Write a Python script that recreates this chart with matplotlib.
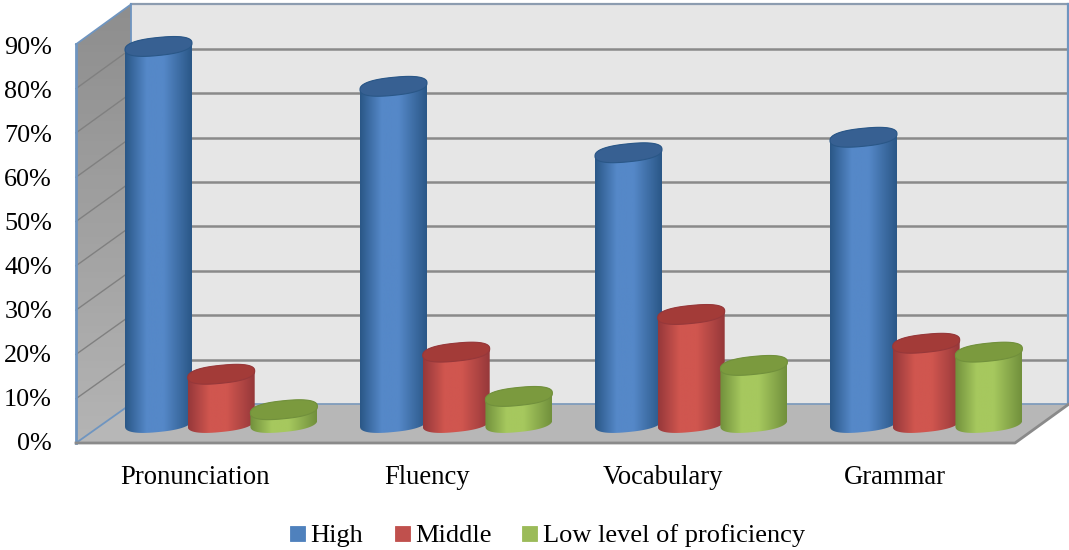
import numpy as np
import matplotlib
matplotlib.use('Agg')
import matplotlib.pyplot as plt
from matplotlib.patches import Polygon, Rectangle
from matplotlib.colors import LinearSegmentedColormap

categories = ['Pronunciation', 'Fluency', 'Vocabulary', 'Grammar']
series_names = ['High', 'Middle', 'Low level of proficiency']
high = [85, 76, 61, 64.5]
middle = [11, 16, 24.5, 18]
low = [3, 6, 13, 16]
y_ticks = [0, 10, 20, 30, 40, 50, 60, 70, 80, 90]

# edge, centre, top cap, legend swatch
blue = ('#2a5787', '#5588c8', '#376092', '#4f81bd')
red = ('#96383a', '#d0564f', '#a33b38', '#c0504d')
green = ('#71903c', '#a6c85e', '#7b9a3e', '#9bbb59')

# chart box in pixels
FRONT_L, FRONT_R, BACK_L, BACK_R = 76, 1015, 131, 1069
FRONT_0, BACK_0 = 443, 404
PX_PER_PCT = 4.43
BAR_0 = 423
GROUP_X = 158.5
GROUP_STEP = 235
BAR_STEP = 62.7
RX, RY, SKEW = 33.5, 9, 3.3
ROUNDNESS = 0.82

plt.rcParams['font.family'] = ['Liberation Serif', 'DejaVu Serif']

fig = plt.figure(figsize=(10.69, 5.5), dpi=100)
ax = fig.add_axes([0, 0, 1, 1])
ax.set_xlim(0, 1069)
ax.set_ylim(550, 0)
ax.axis('off')


def wall_gradient(poly, top, bottom, zorder):
    ax.add_patch(poly)
    cmap = LinearSegmentedColormap.from_list('w', [top, bottom])
    xy = poly.get_xy()
    im = ax.imshow(np.linspace(0, 1, 64).reshape(-1, 1), cmap=cmap, aspect='auto', zorder=zorder,
                   extent=[xy[:, 0].min(), xy[:, 0].max(), xy[:, 1].max(), xy[:, 1].min()])
    im.set_clip_path(poly)


def draw_box():
    top_back = BACK_0 - 90 * 4.44
    top_front = FRONT_0 - 90 * 4.43

    ax.add_patch(Polygon([(BACK_L, top_back), (BACK_R, top_back), (BACK_R, BACK_0), (BACK_L, BACK_0)],
                         facecolor='#e6e6e6', edgecolor='none', zorder=1))
    side = Polygon([(FRONT_L, top_front), (BACK_L, top_back), (BACK_L, BACK_0), (FRONT_L, FRONT_0)],
                   facecolor='none', edgecolor='none', zorder=1)
    wall_gradient(side, '#8e8e8e', '#b4b4b4', 1)
    ax.add_patch(Polygon([(FRONT_L, FRONT_0), (BACK_L, BACK_0), (BACK_R, BACK_0), (FRONT_R, FRONT_0)],
                         facecolor='#b7b7b7', edgecolor='none', zorder=1))

    # gridlines wrap from the side wall onto the back wall
    for tick in y_ticks[1:-1]:
        yb = BACK_0 - tick * 4.44
        yf = FRONT_0 - tick * 4.43
        ax.plot([BACK_L, BACK_R], [yb, yb], color='#8a8a8a', lw=1.8, zorder=2)
        ax.plot([FRONT_L, BACK_L], [yf, yb], color='#808080', lw=1.0, zorder=2)

    edge = '#6f95c0'
    ax.plot([BACK_L, BACK_R], [top_back, top_back], color='#8c9cb0', lw=1.6, zorder=2)
    ax.plot([BACK_L, BACK_L], [top_back, BACK_0], color=edge, lw=1.3, zorder=2)
    ax.plot([BACK_R - 1, BACK_R - 1], [top_back, BACK_0], color=edge, lw=1.6, zorder=2)
    ax.plot([FRONT_L, FRONT_L], [top_front, FRONT_0], color=edge, lw=2.0, zorder=2)
    ax.plot([FRONT_L, BACK_L], [top_front, top_back], color=edge, lw=1.3, zorder=2)
    ax.plot([FRONT_L, BACK_L], [FRONT_0, BACK_0], color=edge, lw=1.3, zorder=2)
    ax.plot([BACK_L, BACK_R], [BACK_0, BACK_0], color='#7f9cbc', lw=1.3, zorder=2)
    ax.plot([FRONT_L, FRONT_R, BACK_R], [FRONT_0, FRONT_0, BACK_0], color='#8a8a8a', lw=2.0, zorder=2)


def ellipse_pts(cx, cy, t):
    # slightly squared ellipse, tilted up towards the right
    c = np.sign(np.cos(t)) * np.abs(np.cos(t)) ** ROUNDNESS
    s = np.sign(np.sin(t)) * np.abs(np.sin(t)) ** ROUNDNESS
    return np.column_stack([cx + RX * c, cy + RY * s - SKEW * c])


def draw_cylinder(cx, value, colors, zorder):
    edge, centre, cap, _ = colors
    y_top = BAR_0 - value * PX_PER_PCT

    # body outline: top arc is hidden by the cap, bottom arc bulges down
    top_arc = ellipse_pts(cx, y_top, np.linspace(np.pi, 2 * np.pi, 40))
    bottom_arc = ellipse_pts(cx, BAR_0, np.linspace(0, np.pi, 40))
    body = Polygon(np.vstack([top_arc, bottom_arc]), closed=True, facecolor='none', edgecolor='none', zorder=zorder)
    ax.add_patch(body)

    cmap = LinearSegmentedColormap.from_list('c', [(0, edge), (0.32, centre), (0.58, centre), (1, edge)])
    im = ax.imshow(np.linspace(0, 1, 128).reshape(1, -1), cmap=cmap, aspect='auto', zorder=zorder,
                   extent=[cx - RX, cx + RX, BAR_0 + RY + SKEW, y_top - RY - SKEW])
    im.set_clip_path(body)

    ax.add_patch(Polygon(ellipse_pts(cx, y_top, np.linspace(0, 2 * np.pi, 80)), closed=True,
                         facecolor=cap, edgecolor=edge, lw=0.8, zorder=zorder + 0.1))


draw_box()

for g in range(len(categories)):
    base = GROUP_X + g * GROUP_STEP
    for s, (values, colors) in enumerate(zip([high, middle, low], [blue, red, green])):
        draw_cylinder(base + s * BAR_STEP, values[g], colors, 3 + g + s * 0.2)

ax.set_xlim(0, 1069)
ax.set_ylim(550, 0)

for tick in y_ticks:
    ax.text(52, 444.5 - tick * 4.41, f'{tick}%', ha='right', va='center', fontsize=18.8, color='black', zorder=10)

label_x = [195, 427, 663, 894.5]
for name, lx in zip(categories, label_x):
    ax.text(lx, 477, name, ha='center', va='center', fontsize=19.2, color='black', zorder=10)

swatch_x = [290, 395, 522]
text_x = [310, 415, 543]
for name, colors, sx, tx in zip(series_names, [blue, red, green], swatch_x, text_x):
    ax.add_patch(Rectangle((sx, 526), 15, 15, facecolor=colors[3], edgecolor=colors[3], lw=0.6, zorder=10))
    ax.text(tx, 536, name, ha='left', va='center', fontsize=19, color='black', zorder=10)

fig.savefig('out.png', dpi=100)
plt.close(fig)
